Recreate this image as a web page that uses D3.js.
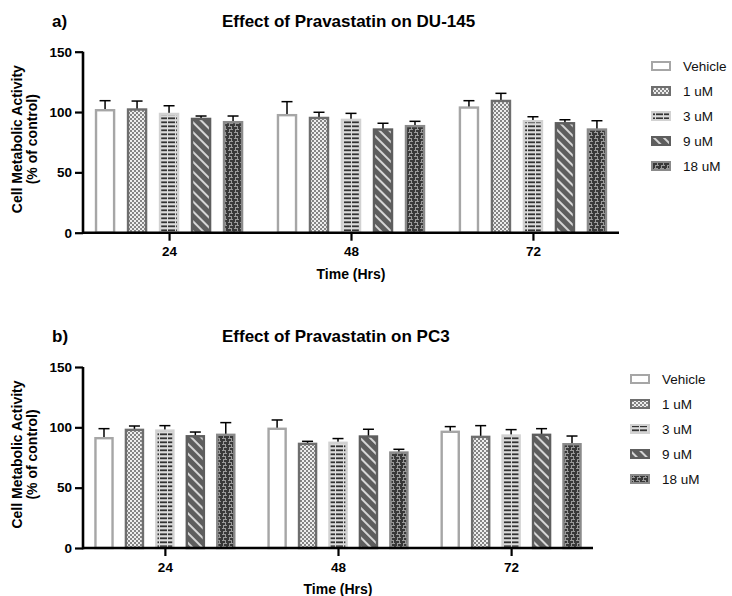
<!DOCTYPE html>
<html>
<head>
<meta charset="utf-8">
<script src="https://cdn.jsdelivr.net/npm/d3@7"></script>
<style>
  body { margin: 0; background: #fff; }
  svg { display: block; font-family: Arial, "Liberation Sans", sans-serif; }
  .bold { font-weight: bold; }
</style>
</head>
<body>
<div id="chart"></div>
<script>
"use strict";

// categories
var times = ["24", "48", "72"];
var groups = ["Vehicle", "1 uM", "3 uM", "9 uM", "18 uM"];
var yTicks = [0, 50, 100, 150];

// DU-145, one row per group, one value per time point
var du145Mean = [
  [101.5, 97.4, 103.7],
  [102.1, 95.1, 109.2],
  [98.4, 93.5, 92.4],
  [94.3, 85.5, 90.7],
  [91.6, 88.3, 85.5]
];
var du145Sem = [
  [7.9, 11.2, 5.7],
  [7.0, 4.7, 6.3],
  [6.8, 5.4, 3.7],
  [2.4, 5.2, 2.9],
  [5.1, 4.0, 7.3]
];

// PC3
var pc3Mean = [
  [91.0, 98.8, 96.3],
  [97.9, 86.3, 92.1],
  [97.3, 87.2, 93.2],
  [92.6, 92.4, 93.8],
  [93.8, 79.1, 86.0]
];
var pc3Sem = [
  [7.9, 7.3, 4.3],
  [3.2, 2.1, 9.3],
  [4.1, 3.5, 4.9],
  [3.5, 6.0, 5.1],
  [10.1, 2.7, 6.8]
];

var width = 732;
var height = 596;

var svg = d3.select("#chart").append("svg")
    .attr("width", width)
    .attr("height", height);

var defs = svg.append("defs");

// 1 uM: fine checker
var p1 = defs.append("pattern").attr("id", "pat1")
    .attr("width", 4).attr("height", 4).attr("patternUnits", "userSpaceOnUse");
p1.append("rect").attr("width", 4).attr("height", 4).attr("fill", "#eeeeee");
p1.append("rect").attr("width", 2).attr("height", 2).attr("fill", "#858585");
p1.append("rect").attr("x", 2).attr("y", 2).attr("width", 2).attr("height", 2).attr("fill", "#858585");

// 3 uM: light grey with dark dashes
var p3 = defs.append("pattern").attr("id", "pat3")
    .attr("width", 8).attr("height", 4).attr("patternUnits", "userSpaceOnUse");
p3.append("rect").attr("width", 8).attr("height", 4).attr("fill", "#dcdcdc");
p3.append("rect").attr("x", 0).attr("y", 1.4).attr("width", 7).attr("height", 1.8).attr("fill", "#333333");

// 9 uM: dark grey with light diagonal stripes
var p9 = defs.append("pattern").attr("id", "pat9")
    .attr("width", 7).attr("height", 7).attr("patternUnits", "userSpaceOnUse")
    .attr("patternTransform", "rotate(-45)");
p9.append("rect").attr("width", 7).attr("height", 7).attr("fill", "#5e5e5e");
p9.append("rect").attr("x", 0).attr("width", 2).attr("height", 7).attr("fill", "#d6d6d6");

// 18 uM: dark weave
var p18 = defs.append("pattern").attr("id", "pat18")
    .attr("width", 6).attr("height", 6).attr("patternUnits", "userSpaceOnUse");
p18.append("rect").attr("width", 6).attr("height", 6).attr("fill", "#383838");
p18.append("rect").attr("x", 0).attr("y", 0).attr("width", 4).attr("height", 1).attr("fill", "#9a9a9a");
p18.append("rect").attr("x", 3).attr("y", 0).attr("width", 1).attr("height", 3).attr("fill", "#9a9a9a");
p18.append("rect").attr("x", 1).attr("y", 3).attr("width", 4).attr("height", 1).attr("fill", "#9a9a9a");
p18.append("rect").attr("x", 1).attr("y", 3).attr("width", 1).attr("height", 3).attr("fill", "#9a9a9a");

var fills = ["#ffffff", "url(#pat1)", "url(#pat3)", "url(#pat9)", "url(#pat18)"];
var strokes = ["#a6a6a6", "#6e6e6e", "#d2d2d2", "#5e5e5e", "#8a8a8a"];

function drawPanel(o) {
  var g = svg.append("g");

  var y = d3.scaleLinear().domain([0, 150]).range([o.y0, o.y150]);
  var x = d3.scalePoint().domain(times).range([o.left, o.right]).padding(0.473);
  var step = x.step();
  var xs = d3.scaleBand().domain(groups)
      .range([-0.408 * step, 0.408 * step])
      .paddingInner(0.36);

  // bars with upper error bars
  groups.forEach(function(grp, i) {
    var sg = g.append("g");
    var cx = function(t) { return x(t) + xs(grp) + xs.bandwidth() / 2; };
    sg.selectAll("line.err")
      .data(times)
      .enter()
      .append("line")
      .attr("x1", cx)
      .attr("x2", cx)
      .attr("y1", function(t, j) { return y(o.mean[i][j]); })
      .attr("y2", function(t, j) { return y(o.mean[i][j] + o.sem[i][j]); })
      .attr("stroke", "#000").attr("stroke-width", 1.5);
    sg.selectAll("line.cap")
      .data(times)
      .enter()
      .append("line")
      .attr("x1", function(t) { return cx(t) - 5.5; })
      .attr("x2", function(t) { return cx(t) + 5.5; })
      .attr("y1", function(t, j) { return y(o.mean[i][j] + o.sem[i][j]); })
      .attr("y2", function(t, j) { return y(o.mean[i][j] + o.sem[i][j]); })
      .attr("stroke", "#000").attr("stroke-width", 1.5);
    sg.selectAll("rect")
      .data(times)
      .enter()
      .append("rect")
      .attr("x", function(t) { return x(t) + xs(grp) + 1.2; })
      .attr("width", xs.bandwidth() - 2.4)
      .attr("y", function(t, j) { return y(o.mean[i][j]); })
      .attr("height", function(t, j) { return y(0) - y(o.mean[i][j]); })
      .attr("fill", fills[i])
      .attr("stroke", strokes[i])
      .attr("stroke-width", 2.4);
  });

  // axes
  var yAxis = g.append("g")
      .attr("transform", "translate(" + o.left + ",0)")
      .call(d3.axisLeft(y).tickValues(yTicks).tickSize(8).tickSizeOuter(0).tickPadding(3));
  var xAxis = g.append("g")
      .attr("transform", "translate(0," + o.y0 + ")")
      .call(d3.axisBottom(x).tickSize(8).tickSizeOuter(0).tickPadding(6));
  [yAxis, xAxis].forEach(function(a) {
    a.select(".domain").attr("stroke", "#000").attr("stroke-width", 2.6);
    a.selectAll(".tick line").attr("stroke", "#000").attr("stroke-width", 2.2);
    a.selectAll(".tick text")
      .attr("fill", "#000")
      .attr("font-size", 13.5)
      .attr("font-weight", "bold")
      .attr("font-family", "Arial, 'Liberation Sans', sans-serif");
  });
  yAxis.select(".domain").attr("d", "M0," + (o.y0 + 1.3) + "V" + o.y150);
  xAxis.select(".domain").attr("d", "M" + o.left + ",0H" + o.right);

  // titles
  g.append("text").attr("class", "bold")
    .attr("x", 52).attr("y", o.titleY)
    .attr("font-size", 17)
    .text(o.tag);
  g.append("text").attr("class", "bold")
    .attr("x", 222).attr("y", o.titleY)
    .attr("font-size", 17)
    .text(o.title);

  g.append("text").attr("class", "bold")
    .attr("x", (o.left + o.right) / 2).attr("y", o.y0 + 46)
    .attr("text-anchor", "middle")
    .attr("font-size", 14)
    .text("Time (Hrs)");

  var cy = (o.y0 + o.y150) / 2 - 3;
  ["Cell Metabolic Activity", "(% of control)"].forEach(function(s, k) {
    g.append("text").attr("class", "bold")
      .attr("transform", "translate(" + (17 + k * 15) + "," + cy + ") rotate(-90)")
      .attr("text-anchor", "middle")
      .attr("dy", "0.35em")
      .attr("font-size", 14)
      .text(s);
  });

  // legend
  var leg = g.append("g");
  groups.forEach(function(grp, i) {
    var ly = o.legY + i * 25;
    leg.append("rect")
      .attr("x", o.legX + 1).attr("y", ly - 4)
      .attr("width", 18).attr("height", 8)
      .attr("fill", fills[i])
      .attr("stroke", strokes[i])
      .attr("stroke-width", 2);
    leg.append("text")
      .attr("x", o.legX + 32).attr("y", ly)
      .attr("dy", "0.35em")
      .attr("font-size", 13.5)
      .attr("fill", "#111")
      .text(grp);
  });
}

drawPanel({
  tag: "a)", title: "Effect of Pravastatin on DU-145", titleY: 27,
  left: 83, right: 619, y0: 232.7, y150: 51.7,
  mean: du145Mean, sem: du145Sem,
  legX: 651, legY: 66
});

drawPanel({
  tag: "b)", title: "Effect of Pravastatin on PC3", titleY: 342,
  left: 83, right: 593, y0: 548, y150: 367,
  mean: pc3Mean, sem: pc3Sem,
  legX: 630, legY: 379
});
</script>
</body>
</html>
